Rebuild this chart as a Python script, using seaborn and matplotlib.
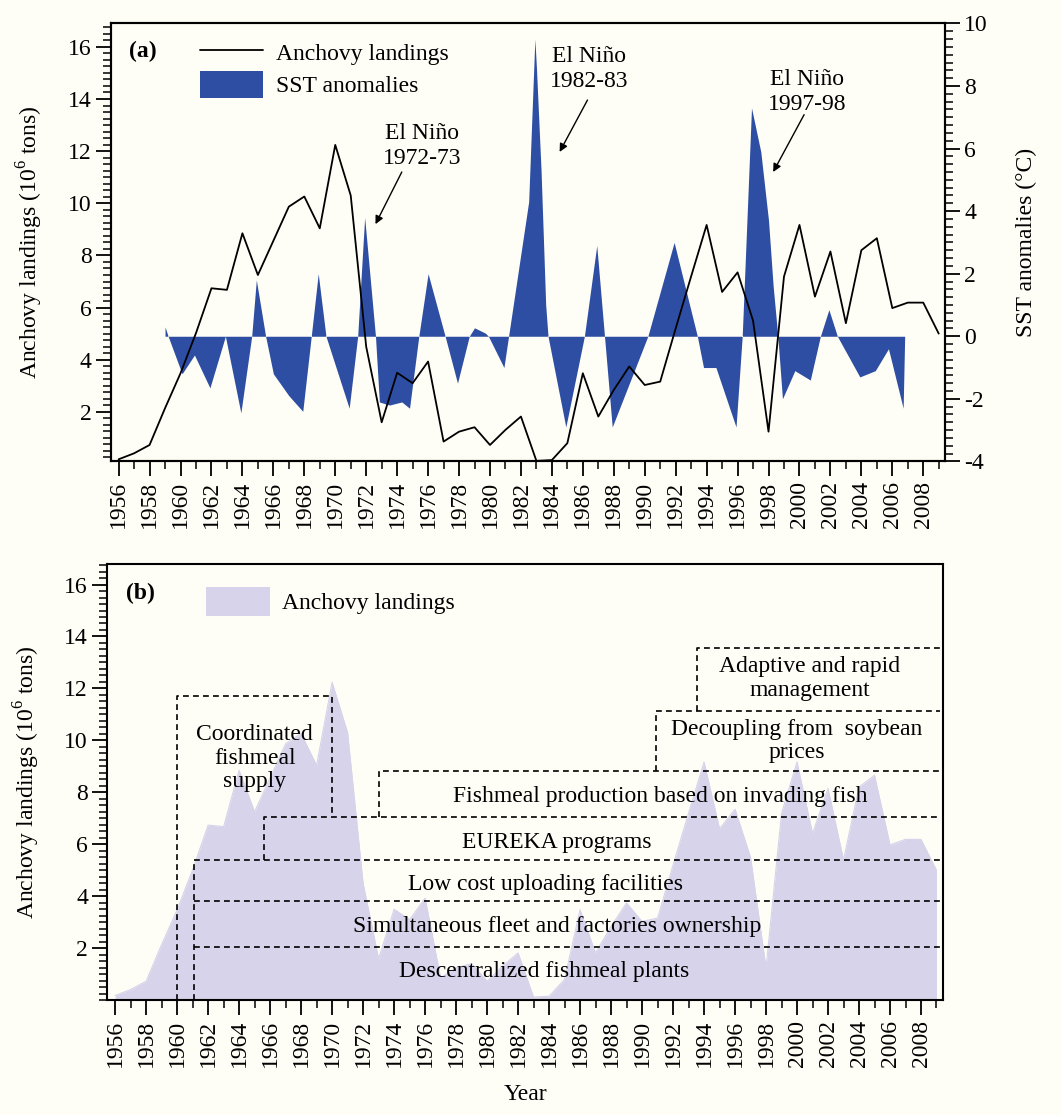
import numpy as np
import pandas as pd
import matplotlib
matplotlib.use("Agg")
import matplotlib.pyplot as plt
from matplotlib.lines import Line2D
from matplotlib.patches import Patch
from matplotlib.ticker import MultipleLocator
import seaborn as sns

# ---------------- data ----------------
years = list(range(1956, 2010))
landings = [0.18, 0.41, 0.73, 2.14, 3.48, 5.02, 6.74, 6.68, 8.85, 7.25,
            8.56, 9.87, 10.26, 9.04, 12.24, 10.3, 4.5, 1.6, 3.5, 3.1,
            3.93, 0.86, 1.24, 1.41, 0.73, 1.31, 1.82, 0.12, 0.15, 0.8,
            3.48, 1.82, 2.84, 3.74, 3.03, 3.16, 5.2, 7.2, 9.17, 6.6,
            7.35, 5.5, 1.24, 7.19, 9.17, 6.42, 8.15, 5.4, 8.2, 8.66,
            5.98, 6.19, 6.19, 5.0]

sst_time = [1959.0, 1959.2, 1960.1, 1960.9, 1961.9, 1962.9, 1963.9, 1964.6,
            1964.9, 1965.5, 1966.0, 1967.0, 1967.9, 1968.45, 1968.9, 1969.4,
            1970.9, 1971.45, 1971.9, 1972.6, 1972.85, 1973.5, 1974.3, 1974.8,
            1975.4, 1976.0, 1977.1, 1977.9, 1978.66, 1979.0, 1979.7, 1979.9,
            1980.9, 1981.2, 1982.5, 1982.9, 1983.0, 1983.3, 1983.6, 1983.75,
            1984.9, 1986.1, 1986.9, 1987.4, 1987.9, 1990.2, 1991.9, 1993.4,
            1993.8, 1994.6, 1995.9, 1996.3, 1996.9, 1997.5, 1998.0, 1998.3,
            1998.6, 1998.9, 1999.7, 2000.7, 2001.35, 2001.9, 2002.45, 2003.9,
            2004.9, 2005.75, 2006.7, 2006.8]
sst_anom = [0.3, 0.0, -1.2, -0.6, -1.65, 0.0, -2.45, 0.0,
            1.8, 0.0, -1.2, -1.9, -2.4, 0.0, 2.0, 0.0,
            -2.3, 0.0, 3.8, 0.0, -2.1, -2.2, -2.1, -2.3,
            0.0, 2.0, 0.0, -1.5, 0.0, 0.27, 0.1, 0.0,
            -1.0, 0.0, 4.3, 9.5, 8.6, 5.3, 1.0, 0.0,
            -2.9, 0.0, 2.9, 0.0, -2.9, 0.0, 3.0, 0.0,
            -1.0, -1.0, -2.9, 0.0, 7.3, 5.9, 3.7, 1.6,
            0.0, -2.0, -1.1, -1.4, 0.0, 0.85, 0.0, -1.3,
            -1.1, -0.4, -2.3, 0.0]

xtick_years = list(range(1956, 2010, 2))

niño_labels = ["El Niño\n1972-73", "El Niño\n1982-83", "El Niño\n1997-98"]

policy_labels = ["Descentralized fishmeal plants",
                 "Simultaneous fleet and factories ownership",
                 "Low cost uploading facilities",
                 "EUREKA programs",
                 "Fishmeal production based on invading fish",
                 "Decoupling from  soybean\nprices",
                 "Adaptive and rapid\nmanagement"]
coord_label = "Coordinated\nfishmeal\nsupply"

df = pd.DataFrame({"Year": years, "Landings": landings})
sst = pd.DataFrame({"t": sst_time, "a": sst_anom})

# ---------------- style ----------------
sns.set_theme(style="ticks")
BG = "#FFFEF6"
plt.rcParams["font.family"] = ["Liberation Serif", "DejaVu Serif"]
plt.rcParams["mathtext.fontset"] = "custom"
plt.rcParams["mathtext.rm"] = "Liberation Serif"
plt.rcParams["axes.linewidth"] = 1.5
plt.rcParams["text.color"] = "black"
plt.rcParams["axes.labelcolor"] = "black"
plt.rcParams["xtick.color"] = "black"
plt.rcParams["ytick.color"] = "black"
FS = 17
BLUE = "#2D4EA2"
LAV = "#D6D3EA"

fig = plt.figure(figsize=(10.61, 11.15), dpi=100, facecolor=BG)
ax1 = fig.add_axes([0.1045, 0.5862, 0.7861, 0.3928])
ax2 = fig.add_axes([0.1012, 0.1030, 0.7873, 0.3914])
for ax in (ax1, ax2):
    ax.set_facecolor(BG)

XL = (1955.5, 2009.4)
YLAB = "Anchovy landings (10$^{6}$ tons)"

def style_axis(ax, ylim):
    ax.set_xlim(*XL)
    ax.set_ylim(*ylim)
    ax.set_xticks(xtick_years)
    ax.set_xticklabels([str(y) for y in xtick_years], rotation=90, fontsize=FS)
    ax.xaxis.set_minor_locator(MultipleLocator(1))
    ax.set_yticks([2, 4, 6, 8, 10, 12, 14, 16])
    ax.set_yticklabels([str(v) for v in [2, 4, 6, 8, 10, 12, 14, 16]], fontsize=FS)
    ax.yaxis.set_minor_locator(MultipleLocator(0.25))
    ax.tick_params(axis="both", which="major", length=11, width=1.3, direction="out",
                   color="black", labelcolor="black", pad=3)
    ax.tick_params(axis="both", which="minor", length=5.5, width=1.1, direction="out",
                   color="black")
    ax.tick_params(top=False, right=False, which="both")
    for s in ax.spines.values():
        s.set_color("black")
        s.set_linewidth(1.5)

# ---------------- panel (a) ----------------
style_axis(ax1, (0.1, 16.9))
ax1b = ax1.twinx()
ax1b.fill_between(sst["t"], sst["a"], 0, color=BLUE, linewidth=0, zorder=1)
ax1b.set_ylim(-4, 10)
ax1b.set_yticks(range(-4, 11, 2))
ax1b.set_yticklabels([str(v) for v in range(-4, 11, 2)], fontsize=FS)
ax1b.yaxis.set_minor_locator(MultipleLocator(0.25))
ax1b.tick_params(axis="y", which="major", length=11, width=1.3, direction="out", pad=3,
                 color="black", labelcolor="black")
ax1b.tick_params(axis="y", which="minor", length=5.5, width=1.1, direction="out", color="black")
ax1b.set_ylabel("SST anomalies (°C)", fontsize=FS, color="black", labelpad=20)
for s in ax1b.spines.values():
    s.set_color("black")
    s.set_linewidth(1.5)
ax1b.grid(False)
ax1.grid(False)

# landings line on top of SST fill
ax1.set_zorder(ax1b.get_zorder() + 1)
ax1.patch.set_visible(False)
ax1b.patch.set_facecolor(BG)
ax1b.patch.set_visible(True)
sns.lineplot(data=df, x="Year", y="Landings", ax=ax1, color="black", linewidth=1.3,
             legend=False, clip_on=False)
ax1.set_xlabel("")
ax1.set_ylabel(YLAB, fontsize=FS, color="black", labelpad=16)

ax1.text(0.022, 0.937, "(a)", transform=ax1.transAxes, fontsize=FS, fontweight="bold",
         va="center", ha="left")
h1 = [Line2D([0], [0], color="black", lw=1.3), Patch(facecolor=BLUE, edgecolor="none")]
ax1.legend(h1, ["Anchovy landings", "SST anomalies"], loc="upper left",
           bbox_to_anchor=(0.088, 1.0), frameon=False, fontsize=FS, handlelength=2.7,
           handleheight=1.4, labelspacing=0.2, borderaxespad=0.25, handletextpad=0.55)

ann = [(niño_labels[0], (1975.6, 12.2), (1974.3, 11.2), (1972.6, 9.2)),
       (niño_labels[1], (1986.4, 15.15), (1986.3, 13.96), (1984.5, 11.97)),
       (niño_labels[2], (2000.5, 14.25), (2000.3, 13.4), (1998.3, 11.2))]
for txt, tpos, a0, a1 in ann:
    ax1.text(tpos[0], tpos[1], txt, ha="center", va="center", fontsize=FS,
             linespacing=1.25, zorder=5)
    ax1.annotate("", xy=a1, xytext=a0,
                 arrowprops=dict(arrowstyle="-|>", color="black", lw=1.0,
                                 mutation_scale=12, shrinkA=0, shrinkB=0), zorder=5)

# ---------------- panel (b) ----------------
style_axis(ax2, (0.0, 16.8))
ax2.fill_between(df["Year"], df["Landings"], 0, color=LAV, linewidth=0, zorder=1)
sns.lineplot(data=df, x="Year", y="Landings", ax=ax2, color=LAV, linewidth=0.8,
             legend=False, zorder=1)
ax2.set_xlabel("Year", fontsize=FS, color="black", labelpad=12)
ax2.set_ylabel(YLAB, fontsize=FS, color="black", labelpad=16)
ax2.grid(False)

ax2.text(0.022, 0.933, "(b)", transform=ax2.transAxes, fontsize=FS, fontweight="bold",
         va="center", ha="left")
h2 = [Patch(facecolor=LAV, edgecolor="none")]
ax2.legend(h2, ["Anchovy landings"], loc="upper left", bbox_to_anchor=(0.098, 0.985),
           frameon=False, fontsize=FS, handlelength=2.7, handleheight=1.5,
           borderaxespad=0.3, handletextpad=0.55)

dkw = dict(color="black", lw=1.2, ls=(0, (3.5, 2.5)), zorder=3)
XR = 2009.2
# Coordinated fishmeal supply box
ax2.plot([1960, 1960, 1970, 1970], [0, 11.7, 11.7, 7.05], **dkw)
ax2.plot([1961.1, 1961.1], [0, 5.38], **dkw)
ax2.plot([1961.1, XR], [2.04, 2.04], **dkw)
ax2.plot([1961.1, XR], [3.83, 3.83], **dkw)
ax2.plot([1961.1, XR], [5.38, 5.38], **dkw)
ax2.plot([1965.6, 1965.6, XR], [5.38, 7.06, 7.06], **dkw)
ax2.plot([1973.0, 1973.0, XR], [7.06, 8.83, 8.83], **dkw)
ax2.plot([1990.9, 1990.9, XR], [8.83, 11.15, 11.15], **dkw)
ax2.plot([1993.55, 1993.55, XR], [11.15, 13.54, 13.54], **dkw)

ax2.text(1965.0, 9.32, coord_label, ha="center", va="center", fontsize=FS,
         linespacing=1.15, zorder=4)
pos = [(1983.7, 1.09), (1984.5, 2.84), (1983.8, 4.46), (1984.5, 6.08),
       (1991.15, 7.84), (2000.0, 9.98), (2000.8, 12.38)]
for txt, (x, y) in zip(policy_labels, pos):
    ax2.text(x, y, txt, ha="center", va="center", fontsize=FS, linespacing=1.15,
             zorder=4)

fig.savefig("out.png", dpi=100, facecolor=BG)
